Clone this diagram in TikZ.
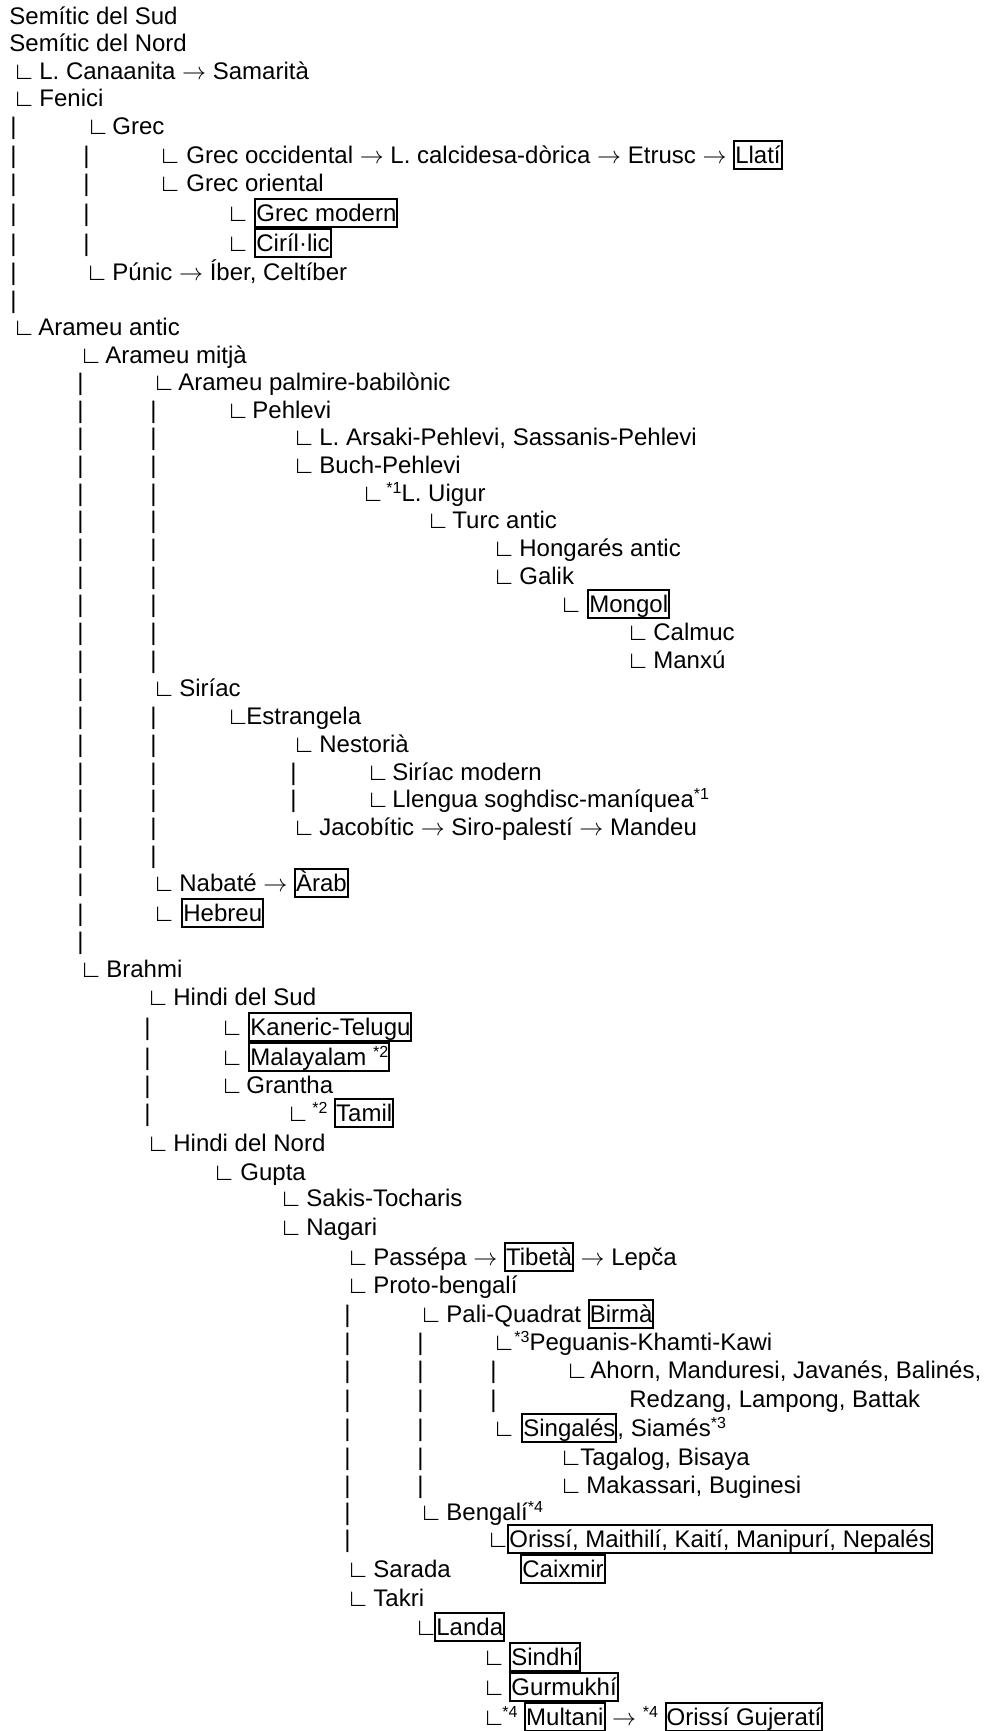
\documentclass[tikz,border=0pt]{standalone}
\usepackage{fontspec}
\setmainfont{Liberation Sans}
\tikzset{txt/.style = {anchor = base west, inner sep = 0, font = \fontsize{12}{14}\selectfont}}
\newcommand{\bx}[1]{{\setlength{\fboxsep}{0pt}\setlength{\fboxrule}{1pt}\fbox{\rule[-2.5pt]{0pt}{13pt}#1}}}
\newcommand{\sups}[1]{\raisebox{4pt}{\fontsize{8}{8}\selectfont #1}}
\newcommand{\tto}{$\rightarrow$}

\begin{document}
\begin{tikzpicture}[x = 0.5pt, y = -0.5pt]
    \useasboundingbox (0, 0) rectangle (986, 1731);

    % vertical bars
    \foreach \y in {134, 163, 191, 221, 251, 280, 308}
        \node [txt] (barA-\y) at (10, \y) {|};
    \foreach \y in {163, 191, 221, 251}
        \node [txt] (barB-\y) at (83, \y) {|};
    \foreach \y in {390, 418, 445, 473, 501, 528, 556, 584, 612, 640, 668, 696, 724, 752, 780, 807, 835, 863, 891, 921, 949}
        \node [txt] (barC-\y) at (77, \y) {|};
    \foreach \y in {418, 445, 473, 501, 528, 556, 584, 612, 640, 668, 724, 752, 780, 807, 835, 863}
        \node [txt] (barD-\y) at (150, \y) {|};
    \foreach \y in {780, 807}
        \node [txt] (barE-\y) at (290, \y) {|};
    \foreach \y in {1035, 1065, 1093, 1121}
        \node [txt] (barF-\y) at (144, \y) {|};
    \foreach \y in {1322, 1350, 1378, 1407, 1436, 1465, 1493, 1520, 1547}
        \node [txt] (barG-\y) at (344, \y) {|};
    \foreach \y in {1350, 1378, 1407, 1436, 1465, 1493}
        \node [txt] (barH-\y) at (417, \y) {|};
    \foreach \y in {1378, 1407}
        \node [txt] (barI-\y) at (490, \y) {|};

    % semitic
    \node [txt] (sud) at (9, 24) {Semític del Sud};
    \node [txt] (nord) at (9, 51) {Semític del Nord};
    \node [txt] (k3) at (12, 79) {∟};
    \node [txt] (canaan) at (39, 79) {L. Canaanita \tto{} Samarità};
    \node [txt] (k4) at (12, 106) {∟};
    \node [txt] (fenici) at (39, 106) {Fenici};
    \node [txt] (k5) at (86, 134) {∟};
    \node [txt] (grec) at (112, 134) {Grec};
    \node [txt] (k6) at (158, 163) {∟};
    \node [txt] (grecocc) at (186, 163) {Grec occidental \tto{} L. calcidesa-dòrica \tto{} Etrusc \tto{} \bx{Llatí}};
    \node [txt] (k7) at (158, 191) {∟};
    \node [txt] (grecor) at (186, 191) {Grec oriental};
    \node [txt] (k8) at (226, 221) {∟};
    \node [txt] (grecmod) at (254, 221) {\bx{Grec modern}};
    \node [txt] (k9) at (226, 251) {∟};
    \node [txt] (ciril) at (254, 251) {\bx{Ciríl·lic}};
    \node [txt] (k10) at (85, 280) {∟};
    \node [txt] (punic) at (112, 280) {Púnic \tto{} Íber, Celtíber};

    % aramaic
    \node [txt] (k12) at (12, 335) {∟};
    \node [txt] (aramant) at (38, 335) {Arameu antic};
    \node [txt] (k13) at (79, 363) {∟};
    \node [txt] (arammit) at (105, 363) {Arameu mitjà};
    \node [txt] (k14) at (152, 390) {∟};
    \node [txt] (palmire) at (178, 390) {Arameu palmire-babilònic};
    \node [txt] (k15) at (226, 418) {∟};
    \node [txt] (pehlevi) at (252, 418) {Pehlevi};
    \node [txt] (k16) at (292, 445) {∟};
    \node [txt] (arsaki) at (319, 445) {L. Arsaki-Pehlevi, Sassanis-Pehlevi};
    \node [txt] (k17) at (292, 473) {∟};
    \node [txt] (buch) at (319, 473) {Buch-Pehlevi};
    \node [txt] (k18) at (361, 501) {∟};
    \node [txt] (uigur) at (386, 501) {\sups{*1}L. Uigur};
    \node [txt] (k19) at (426, 528) {∟};
    \node [txt] (turc) at (452, 528) {Turc antic};
    \node [txt] (k20) at (492, 556) {∟};
    \node [txt] (hongares) at (519, 556) {Hongarés antic};
    \node [txt] (k21) at (492, 584) {∟};
    \node [txt] (galik) at (519, 584) {Galik};
    \node [txt] (k22) at (559, 612) {∟};
    \node [txt] (mongol) at (587, 612) {\bx{Mongol}};
    \node [txt] (k23) at (626, 640) {∟};
    \node [txt] (calmuc) at (653, 640) {Calmuc};
    \node [txt] (k24) at (626, 668) {∟};
    \node [txt] (manxu) at (653, 668) {Manxú};
    \node [txt] (k25) at (152, 696) {∟};
    \node [txt] (siriac) at (179, 696) {Siríac};
    \node [txt] (k26) at (226, 724) {∟};
    \node [txt] (estrangela) at (246, 724) {Estrangela};
    \node [txt] (k27) at (292, 752) {∟};
    \node [txt] (nestoria) at (319, 752) {Nestorià};
    \node [txt] (k28) at (366, 780) {∟};
    \node [txt] (sirmod) at (392, 780) {Siríac modern};
    \node [txt] (k29) at (366, 807) {∟};
    \node [txt] (soghd) at (392, 807) {Llengua soghdisc-maníquea\sups{*1}};
    \node [txt] (k30) at (292, 835) {∟};
    \node [txt] (jacob) at (319, 835) {Jacobític \tto{} Siro-palestí \tto{} Mandeu};
    \node [txt] (k32) at (152, 891) {∟};
    \node [txt] (nabate) at (179, 891) {Nabaté \tto{} \bx{Àrab}};
    \node [txt] (k33) at (152, 921) {∟};
    \node [txt] (hebreu) at (181, 921) {\bx{Hebreu}};

    % brahmi
    \node [txt] (k35) at (79, 977) {∟};
    \node [txt] (brahmi) at (106, 977) {Brahmi};
    \node [txt] (k36) at (146, 1005) {∟};
    \node [txt] (hsud) at (173, 1005) {Hindi del Sud};
    \node [txt] (k37) at (220, 1035) {∟};
    \node [txt] (kaneric) at (248, 1035) {\bx{Kaneric-Telugu}};
    \node [txt] (k38) at (220, 1065) {∟};
    \node [txt] (malay) at (248, 1065) {\bx{Malayalam \sups{*2}}};
    \node [txt] (k39) at (220, 1093) {∟};
    \node [txt] (grantha) at (246, 1093) {Grantha};
    \node [txt] (k40) at (286, 1121) {∟};
    \node [txt] (tamil) at (312, 1121) {\sups{*2} \bx{Tamil}};
    \node [txt] (k41) at (146, 1151) {∟};
    \node [txt] (hnord) at (173, 1151) {Hindi del Nord};
    \node [txt] (k42) at (212, 1180) {∟};
    \node [txt] (gupta) at (240, 1180) {Gupta};
    \node [txt] (k43) at (279, 1206) {∟};
    \node [txt] (sakis) at (306, 1206) {Sakis-Tocharis};
    \node [txt] (k44) at (279, 1235) {∟};
    \node [txt] (nagari) at (306, 1235) {Nagari};
    \node [txt] (k45) at (346, 1265) {∟};
    \node [txt] (passepa) at (373, 1265) {Passépa \tto{} \bx{Tibetà} \tto{} Lepča};
    \node [txt] (k46) at (346, 1293) {∟};
    \node [txt] (protob) at (373, 1293) {Proto-bengalí};
    \node [txt] (k47) at (419, 1322) {∟};
    \node [txt] (pali) at (446, 1322) {Pali-Quadrat \bx{Birmà}};
    \node [txt] (k48) at (492, 1350) {∟};
    \node [txt] (peguanis) at (514, 1350) {\sups{*3}Peguanis-Khamti-Kawi};
    \node [txt] (k49) at (565, 1378) {∟};
    \node [txt] (ahorn) at (590, 1378) {Ahorn, Manduresi, Javanés, Balinés,};
    \node [txt] (redzang) at (629, 1407) {Redzang, Lampong, Battak};
    \node [txt] (k51) at (492, 1436) {∟};
    \node [txt] (singales) at (521, 1436) {\bx{Singalés}, Siamés\sups{*3}};
    \node [txt] (k52) at (559, 1465) {∟};
    \node [txt] (tagalog) at (580, 1465) {Tagalog, Bisaya};
    \node [txt] (k53) at (559, 1493) {∟};
    \node [txt] (makassari) at (586, 1493) {Makassari, Buginesi};
    \node [txt] (k54) at (419, 1520) {∟};
    \node [txt] (bengali) at (446, 1520) {Bengalí\sups{*4}};
    \node [txt] (k55) at (486, 1547) {∟};
    \node [txt] (orissi) at (507, 1547) {\bx{Orissí, Maithilí, Kaití, Manipurí, Nepalés}};
    \node [txt] (k56) at (346, 1577) {∟};
    \node [txt] (sarada) at (373, 1577) {Sarada};
    \node [txt] (caixmir) at (520, 1577) {\bx{Caixmir}};
    \node [txt] (k57) at (346, 1606) {∟};
    \node [txt] (takri) at (373, 1606) {Takri};
    \node [txt] (k58) at (414, 1635) {∟};
    \node [txt] (landa) at (434, 1635) {\bx{Landa}};
    \node [txt] (k59) at (482, 1665) {∟};
    \node [txt] (sindhi) at (509, 1665) {\bx{Sindhí}};
    \node [txt] (k60) at (482, 1695) {∟};
    \node [txt] (gurmukhi) at (509, 1695) {\bx{Gurmukhí}};
    \node [txt] (k61) at (482, 1725) {∟};
    \node [txt] (multani) at (502, 1725) {\sups{*4} \bx{Multani} \tto{} \sups{*4} \bx{Orissí Gujeratí}};
\end{tikzpicture}
\end{document}
